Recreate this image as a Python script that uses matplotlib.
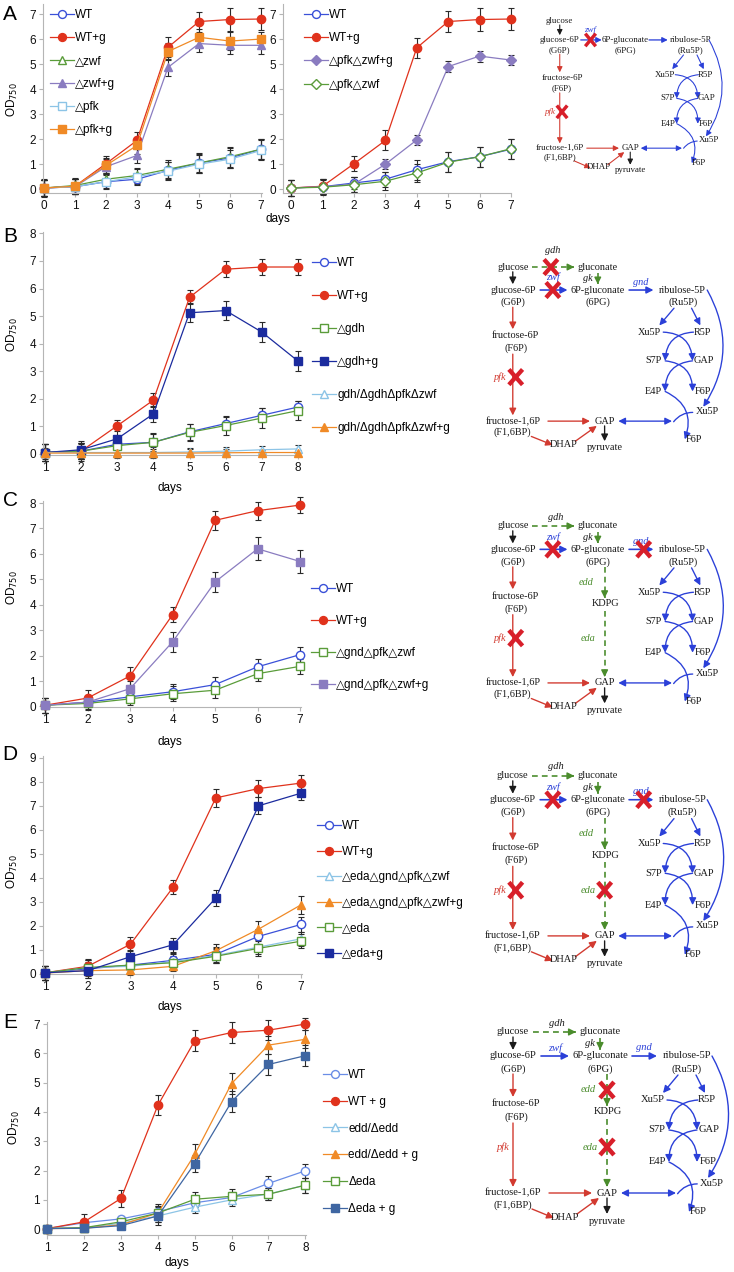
import matplotlib
matplotlib.use('Agg')
import matplotlib.pyplot as plt
from matplotlib.patches import FancyArrowPatch, ArrowStyle

W, H = 734, 1272
SANS = ['Liberation Sans', 'DejaVu Sans']
SERIF = ['Liberation Serif', 'DejaVu Serif']
plt.rcParams['font.family'] = SANS

# ---------------- data ----------------
# Panel A (left)
a1_days = [0, 1, 2, 3, 4, 5, 6, 7]
a1_labels = ['WT', 'WT+g', '\u25b3zwf', '\u25b3zwf+g', '\u25b3pfk', '\u25b3pfk+g']
a1_wt = [0.05, 0.1, 0.3, 0.4, 0.75, 1.05, 1.25, 1.6]
a1_wtg = [0.05, 0.12, 1.02, 1.95, 5.67, 6.7, 6.78, 6.8]
a1_zwf = [0.05, 0.15, 0.4, 0.55, 0.8, 1.05, 1.3, 1.6]
a1_zwfg = [0.05, 0.1, 0.9, 1.35, 4.87, 5.82, 5.75, 5.75]
a1_pfk = [0.05, 0.1, 0.3, 0.5, 0.72, 1.0, 1.2, 1.55]
a1_pfkg = [0.05, 0.12, 0.95, 1.75, 5.5, 6.07, 5.92, 6.0]
a1_err = [
    [0.3, 0.3, 0.3, 0.25, 0.35, 0.4, 0.4, 0.4],
    [0.35, 0.3, 0.3, 0.35, 0.4, 0.4, 0.45, 0.45],
    [0.3, 0.3, 0.25, 0.3, 0.35, 0.35, 0.4, 0.4],
    [0.3, 0.3, 0.3, 0.3, 0.35, 0.35, 0.35, 0.35],
    [0.3, 0.3, 0.25, 0.3, 0.35, 0.35, 0.35, 0.4],
    [0.3, 0.3, 0.3, 0.35, 0.35, 0.35, 0.35, 0.3],
]
# Panel A (middle)
a2_days = [0, 1, 2, 3, 4, 5, 6, 7]
a2_labels = ['WT', 'WT+g', '\u25b3pfk\u25b3zwf+g', '\u25b3pfk\u25b3zwf']
a2_wt = [0.05, 0.1, 0.25, 0.4, 0.78, 1.1, 1.3, 1.6]
a2_wtg = [0.05, 0.12, 1.02, 1.95, 5.65, 6.7, 6.78, 6.8]
a2_pzg = [0.05, 0.1, 0.2, 1.0, 1.97, 4.9, 5.32, 5.16]
a2_pz = [0.05, 0.08, 0.18, 0.32, 0.65, 1.08, 1.3, 1.62]
a2_err = [
    [0.3, 0.3, 0.25, 0.3, 0.4, 0.4, 0.4, 0.4],
    [0.3, 0.3, 0.3, 0.4, 0.4, 0.42, 0.45, 0.45],
    [0.3, 0.3, 0.3, 0.2, 0.2, 0.22, 0.22, 0.2],
    [0.3, 0.3, 0.3, 0.35, 0.35, 0.4, 0.4, 0.4],
]
# Panel B
b_days = [1, 2, 3, 4, 5, 6, 7, 8]
b_labels = ['WT', 'WT+g', '\u25b3gdh', '\u25b3gdh+g',
            'gdh/\u0394gdh\u0394pfk\u0394zwf', 'gdh/\u0394gdh\u0394pfk\u0394zwf+g']
b_wt = [0.05, 0.1, 0.35, 0.42, 0.8, 1.1, 1.4, 1.7]
b_wtg = [0.05, 0.1, 1.02, 1.95, 5.68, 6.7, 6.78, 6.78]
b_gdh = [0.05, 0.1, 0.3, 0.42, 0.78, 1.03, 1.3, 1.57]
b_gdhg = [0.05, 0.15, 0.55, 1.45, 5.12, 5.2, 4.42, 3.37]
b_tri = [0.05, 0.05, 0.05, 0.05, 0.07, 0.1, 0.15, 0.18]
b_trig = [0.03, 0.03, 0.03, 0.03, 0.03, 0.04, 0.05, 0.05]
b_err = [
    [0.3, 0.3, 0.3, 0.3, 0.3, 0.25, 0.25, 0.22],
    [0.3, 0.3, 0.2, 0.25, 0.25, 0.28, 0.3, 0.3],
    [0.3, 0.3, 0.3, 0.35, 0.3, 0.33, 0.35, 0.35],
    [0.3, 0.3, 0.35, 0.3, 0.35, 0.35, 0.37, 0.37],
    [0.3, 0.3, 0.2, 0.2, 0.15, 0.15, 0.15, 0.15],
    [0.2, 0.2, 0.15, 0.15, 0.15, 0.15, 0.1, 0.1],
]
# Panel C
c_days = [1, 2, 3, 4, 5, 6, 7]
c_labels = ['WT', 'WT+g', '\u25b3gnd\u25b3pfk\u25b3zwf', '\u25b3gnd\u25b3pfk\u25b3zwf+g']
c_wt = [0.05, 0.17, 0.38, 0.58, 0.86, 1.56, 2.04]
c_wtg = [0.05, 0.33, 1.2, 3.61, 7.32, 7.7, 7.92]
c_g = [0.05, 0.12, 0.3, 0.5, 0.64, 1.29, 1.58]
c_gg = [0.05, 0.17, 0.7, 2.54, 4.9, 6.2, 5.7]
c_err = [
    [0.3, 0.2, 0.25, 0.3, 0.28, 0.3, 0.3],
    [0.3, 0.3, 0.35, 0.3, 0.37, 0.35, 0.3],
    [0.3, 0.2, 0.25, 0.3, 0.3, 0.3, 0.3],
    [0.3, 0.3, 0.3, 0.4, 0.4, 0.45, 0.45],
]
# Panel D
d_days = [1, 2, 3, 4, 5, 6, 7]
d_labels = ['WT', 'WT+g', '\u25b3eda\u25b3gnd\u25b3pfk\u25b3zwf',
            '\u25b3eda\u25b3gnd\u25b3pfk\u25b3zwf+g', '\u25b3eda', '\u25b3eda+g']
d_wt = [0.03, 0.2, 0.35, 0.55, 0.8, 1.55, 2.05]
d_wtg = [0.03, 0.3, 1.22, 3.6, 7.33, 7.72, 7.95]
d_q = [0.02, 0.25, 0.3, 0.5, 0.75, 1.1, 1.45]
d_qg = [0.02, 0.12, 0.15, 0.3, 0.95, 1.85, 2.87]
d_eda = [0.03, 0.25, 0.35, 0.45, 0.72, 1.05, 1.35]
d_edag = [0.03, 0.12, 0.7, 1.2, 3.15, 7.0, 7.53]
d_err = [
    [0.3, 0.3, 0.3, 0.3, 0.3, 0.3, 0.3],
    [0.3, 0.3, 0.3, 0.3, 0.37, 0.35, 0.35],
    [0.3, 0.3, 0.3, 0.3, 0.3, 0.3, 0.3],
    [0.3, 0.3, 0.2, 0.2, 0.3, 0.35, 0.38],
    [0.3, 0.3, 0.3, 0.3, 0.3, 0.3, 0.3],
    [0.3, 0.3, 0.3, 0.3, 0.35, 0.35, 0.3],
]
# Panel E
e_days = [1, 2, 3, 4, 5, 6, 7, 8]
e_labels = ['WT', 'WT + g', 'edd/\u0394edd', 'edd/\u0394edd + g', '\u0394eda', '\u0394eda + g']
e_wt = [0.02, 0.22, 0.35, 0.6, 0.9, 1.08, 1.56, 1.99]
e_wtg = [0.02, 0.25, 1.05, 4.23, 6.43, 6.71, 6.79, 7.0]
e_edd = [0.02, 0.05, 0.2, 0.45, 0.75, 1.0, 1.2, 1.5]
e_eddg = [0.02, 0.03, 0.15, 0.55, 2.55, 4.97, 6.28, 6.48]
e_eda = [0.02, 0.05, 0.25, 0.55, 1.02, 1.12, 1.19, 1.5]
e_edag = [0.02, 0.03, 0.12, 0.45, 2.24, 4.35, 5.62, 5.92]
e_err = [
    [0.1, 0.1, 0.1, 0.2, 0.2, 0.2, 0.25, 0.25],
    [0.1, 0.25, 0.3, 0.35, 0.35, 0.35, 0.35, 0.2],
    [0.1, 0.1, 0.1, 0.2, 0.2, 0.2, 0.2, 0.25],
    [0.1, 0.1, 0.1, 0.3, 0.35, 0.35, 0.3, 0.3],
    [0.1, 0.1, 0.1, 0.25, 0.25, 0.25, 0.2, 0.25],
    [0.1, 0.1, 0.1, 0.3, 0.3, 0.35, 0.35, 0.35],
]

# ---------------- styles ----------------
C_WT = '#3a50d8'
C_WT_E = '#6a8de6'
C_RED = '#e0321c'
C_GREEN = '#5a9c3a'
C_PURPLE = '#8a7cc0'
C_LBLUE = '#8cc4e6'
C_ORANGE = '#f08a26'
C_NAVY = '#1b2b9e'
C_STEEL = '#3f66a2'

fig = plt.figure(figsize=(W / 100, H / 100), dpi=100)


def px_axes(l, t, r, b):
    return fig.add_axes([l / W, 1 - b / H, (r - l) / W, (b - t) / H])


def style_axes(ax, xlim, ylim, xticks, yticks):
    ax.set_xlim(*xlim)
    ax.set_ylim(*ylim)
    ax.set_xticks(xticks)
    ax.set_yticks(yticks)
    for s in ['top', 'right']:
        ax.spines[s].set_visible(False)
    for s in ['left', 'bottom']:
        ax.spines[s].set_color('#b5b5b5')
        ax.spines[s].set_linewidth(0.8)
    ax.tick_params(length=3, width=0.8, color='#b5b5b5', labelsize=8.5, pad=2,
                   labelcolor='#111111')
    ax.patch.set_alpha(0)


def draw_series(ax, x, ys, errs, styles, ms=6):
    handles = []
    for y, e, (c, m, filled) in zip(ys, errs, styles):
        ax.errorbar(x, y, yerr=e, fmt='none', ecolor='#2a2a2a', elinewidth=0.8,
                    capsize=2.5, capthick=0.8, zorder=2, clip_on=False)
        size = ms - 1 if m == 'D' else ms
        ln, = ax.plot(x, y, color=c, lw=0.9, marker=m, ms=size,
                      mfc=c if filled else 'white', mec=c, mew=1.0,
                      zorder=3, clip_on=False)
        handles.append(ln)
    return handles


def add_legend(ax, handles, labels, x_px, yc_px, spacing_px, fs=8.5):
    em = fs * 100 / 72
    ls = (spacing_px - em * 1.16) / em
    ax.legend(handles, labels, loc='upper left',
              bbox_to_anchor=(x_px / W, 1 - (yc_px - em * 0.58) / H),
              bbox_transform=fig.transFigure, frameon=False, fontsize=fs,
              handlelength=2.0, handletextpad=0.15, labelspacing=ls,
              borderpad=0, borderaxespad=0, markerscale=0.95)


def ylabel(x, y):
    fig.text(x / W, 1 - y / H, r'OD$_{750}$', rotation=90, ha='center', va='center',
             fontsize=8.5)


def xlabel(x, y):
    fig.text(x / W, 1 - y / H, 'days', ha='center', va='center', fontsize=8.5)


def letter(t, x, y):
    fig.text(x / W, 1 - y / H, t, ha='center', va='center', fontsize=15)


# ---------------- Panel A ----------------
ax = px_axes(43, 4, 262, 193)
style_axes(ax, (-0.03, 7.03), (-0.15, 7.4), a1_days, range(0, 8))
h = draw_series(ax, a1_days, [a1_wt, a1_wtg, a1_zwf, a1_zwfg, a1_pfk, a1_pfkg], a1_err,
                [(C_WT, 'o', False), (C_RED, 'o', True), (C_GREEN, '^', False),
                 (C_PURPLE, '^', True), (C_LBLUE, 's', False), (C_ORANGE, 's', True)])
add_legend(ax, h, a1_labels, 50, 15.7, 24.7)

ax = px_axes(283, 4, 511, 193)
style_axes(ax, (-0.26, 7.0), (-0.15, 7.4), a2_days, range(0, 8))
h = draw_series(ax, a2_days, [a2_wt, a2_wtg, a2_pzg, a2_pz], a2_err,
                [(C_WT, 'o', False), (C_RED, 'o', True), (C_PURPLE, 'D', True),
                 (C_GREEN, 'D', False)])
add_legend(ax, h, a2_labels, 304, 15.7, 25.0)
ylabel(12, 100)
xlabel(278, 219)
letter('A', 10, 15)

# ---------------- Panel B ----------------
ax = px_axes(43, 232, 299, 455)
style_axes(ax, (0.945, 8.03), (-0.04, 8.05), b_days, range(0, 9))
h = draw_series(ax, b_days, [b_wt, b_wtg, b_gdh, b_gdhg, b_tri, b_trig], b_err,
                [(C_WT, 'o', False), (C_RED, 'o', True), (C_GREEN, 's', False),
                 (C_NAVY, 's', True), (C_LBLUE, '^', False), (C_ORANGE, '^', True)])
add_legend(ax, h, b_labels, 312, 264, 34.6)
ylabel(12, 335)
xlabel(170, 488)
letter('B', 10, 237)

# ---------------- Panel C ----------------
ax = px_axes(43, 501, 301, 707)
style_axes(ax, (0.953, 7.02), (-0.02, 8.08), c_days, range(0, 9))
h = draw_series(ax, c_days, [c_wt, c_wtg, c_g, c_gg], c_err,
                [(C_WT, 'o', False), (C_RED, 'o', True), (C_GREEN, 's', False),
                 (C_PURPLE, 's', True)])
add_legend(ax, h, c_labels, 311, 590, 33.7)
ylabel(12, 588)
xlabel(170, 742)
letter('C', 10, 500)

# ---------------- Panel D ----------------
ax = px_axes(43, 756, 302, 974)
style_axes(ax, (0.953, 7.02), (-0.02, 9.08), d_days, range(0, 10))
h = draw_series(ax, d_days, [d_wt, d_wtg, d_q, d_qg, d_eda, d_edag], d_err,
                [(C_WT, 'o', False), (C_RED, 'o', True), (C_LBLUE, '^', False),
                 (C_ORANGE, '^', True), (C_GREEN, 's', False), (C_NAVY, 's', True)])
add_legend(ax, h, d_labels, 317, 827, 27.2)
ylabel(12, 872)
xlabel(170, 1007)
letter('D', 10, 755)

# ---------------- Panel E ----------------
ax = px_axes(47, 1022, 306, 1235)
style_axes(ax, (0.99, 8.02), (-0.2, 7.07), e_days, range(0, 8))
h = draw_series(ax, e_days, [e_wt, e_wtg, e_edd, e_eddg, e_eda, e_edag], e_err,
                [(C_WT_E, 'o', False), (C_RED, 'o', True), (C_LBLUE, '^', False),
                 (C_ORANGE, '^', True), (C_GREEN, 's', False), (C_STEEL, 's', True)])
add_legend(ax, h, e_labels, 323, 1076, 28.4)
ylabel(14, 1128)
xlabel(177, 1263)
letter('E', 10, 1022)


# ---------------- pathway diagrams ----------------
P_RED = '#d23a30'
P_BLUE = '#2b40d8'
P_GREEN = '#4a8c2c'
X_RED = '#d81f2a'
P_TXT = '#1a1a1a'


def pathway(ox, oy, sx, sy, fmul=1.0, gdh_row=True, ko_gdh=False, ko_zwf=False,
            gnd_lab=True, ko_gnd=False, ko_pfk=False, ed=False, ko_edd=False, ko_eda=False):
    ax = fig.add_axes([ox / W, 1 - (oy + sy * 230) / H, sx * 275 / W, sy * 230 / H])
    ax.set_xlim(0, 275)
    ax.set_ylim(230, 0)
    ax.axis('off')
    s = (sx + sy) / 2
    fs = 7.6 * s * fmul

    def T(x, y, t, c=P_TXT, it=False):
        ax.text(x, y, t, ha='center', va='center', fontsize=fs, color=c,
                family=SERIF, style='italic' if it else 'normal')

    def A(p0, p1, c, rad=0.0, both=False, lw=1.0):
        st = ArrowStyle('<|-|>' if both else '-|>', head_length=0.6, head_width=0.3)
        ax.add_patch(FancyArrowPatch(p0, p1, arrowstyle=st, mutation_scale=7 * s,
                                     color=c, lw=lw * s, shrinkA=0, shrinkB=0,
                                     connectionstyle='arc3,rad=%g' % rad))

    def Dsh(p0, p1, c=P_GREEN):
        (x0, y0), (x1, y1) = p0, p1
        ax.plot([x0, x1], [y0, y1], color=c, lw=1.2 * s, ls=(0, (3.5, 2.5)))
        dx, dy = x1 - x0, y1 - y0
        L = (dx * dx + dy * dy) ** 0.5
        A((x1 - 3 * dx / L, y1 - 3 * dy / L), (x1, y1), c)

    def X(x, y, hw=7.0, hh=8.0):
        ax.plot([x - hw, x + hw], [y - hh, y + hh], color=X_RED, lw=3.2 * s,
                solid_capstyle='butt', zorder=5)
        ax.plot([x - hw, x + hw], [y + hh, y - hh], color=X_RED, lw=3.2 * s,
                solid_capstyle='butt', zorder=5)

    # metabolites
    T(53, 22, 'glucose')
    T(53, 46, 'glucose-6P'); T(53, 59, '(G6P)')
    T(140, 46, '6P-gluconate'); T(140, 59, '(6PG)')
    T(227, 46, 'ribulose-5P'); T(227, 59, '(Ru5P)')
    T(56, 94, 'fructose-6P'); T(56, 107, '(F6P)')
    T(53, 183, 'fructose-1,6P'); T(53, 195, '(F1,6BP)')
    T(105, 207, 'DHAP'); T(147, 183, 'GAP'); T(147, 211, 'pyruvate')
    T(193, 90, 'Xu5P'); T(247, 90, 'R5P')
    T(197, 120, 'S7P'); T(249, 120, 'GAP')
    T(197, 152, 'E4P'); T(248, 152, 'F6P')
    T(252, 173, 'Xu5P'); T(238, 202, 'F6P')

    # glycolysis
    A((53, 27), (53, 40), P_TXT)
    A((53, 64), (53, 87), P_RED)
    A((53, 113), (53, 177), P_RED)
    A((89, 183), (132, 183), P_RED)
    A((72, 199), (94, 208), P_RED)
    A((117, 204), (139, 188), P_RED)
    A((147, 188), (147, 204), P_TXT)
    T(40 if ko_pfk else 43, 137, 'pfk', P_RED, True)
    if ko_pfk:
        X(56, 137)

    # oxidative PPP
    A((81, 46), (109, 46), P_BLUE, lw=1.2)
    if ko_zwf:
        X(94, 46)
        T(94, 33, 'zwf', P_BLUE, True)
    else:
        T(95, 38, 'zwf', P_BLUE, True)
    A((172, 46), (197, 46), P_BLUE, lw=1.2)
    if gnd_lab:
        T(184, 38, 'gnd', P_BLUE, True)
    if ko_gnd:
        X(187, 46)

    # gdh branch
    if gdh_row:
        T(140, 22, 'gluconate')
        Dsh((73, 22), (116, 22))
        Dsh((140, 28), (140, 40))
        T(130, 34, 'gk', P_TXT, True)
        if ko_gdh:
            X(92, 22)
            T(94, 5, 'gdh', P_TXT, True)
        else:
            T(97, 13, 'gdh', P_TXT, True)

    # Entner-Doudoroff
    if ed:
        T(148, 102, 'KDPG')
        Dsh((147, 64), (147, 96))
        Dsh((147, 109), (147, 177))
        T(128, 80, 'edd', P_GREEN, True)
        T(130, 137, 'eda', P_GREEN, True)
        if ko_edd:
            X(147, 80)
        if ko_eda:
            X(147, 137)

    # non-oxidative PPP
    A((218, 65), (203, 83), P_BLUE)
    A((236, 65), (245, 83), P_BLUE)
    A((252, 46), (248, 168), P_BLUE, rad=-0.3)
    A((207, 90), (237, 120), P_BLUE, rad=-0.45)
    A((238, 90), (209, 120), P_BLUE, rad=0.45)
    A((209, 120), (237, 152), P_BLUE, rad=-0.45)
    A((237, 120), (209, 152), P_BLUE, rad=0.45)
    A((209, 152), (229, 202), P_BLUE, rad=-0.45)
    ax.add_patch(FancyArrowPatch((240, 174), (216, 186), arrowstyle='-', color=P_BLUE,
                                 lw=1.0 * s, connectionstyle='arc3,rad=0.3'))
    A((161, 183), (216, 183), P_BLUE, both=True)


pathway(520, 3.6, 0.75, 0.79, fmul=1.1, gdh_row=False, ko_zwf=True, gnd_lab=False,
        ko_pfk=True)
pathway(461, 246, 0.977, 0.957, ko_gdh=True, ko_zwf=True, ko_pfk=True)
pathway(461, 504.5, 0.977, 0.975, ko_zwf=True, ko_gnd=True, ko_pfk=True, ed=True)
pathway(461, 754, 0.977, 0.994, ko_zwf=True, ko_gnd=True, ko_pfk=True, ed=True,
        ko_eda=True)
pathway(460, 1010, 1.0, 1.0, ed=True, ko_edd=True, ko_eda=True)

fig.savefig('out.png', dpi=100)
